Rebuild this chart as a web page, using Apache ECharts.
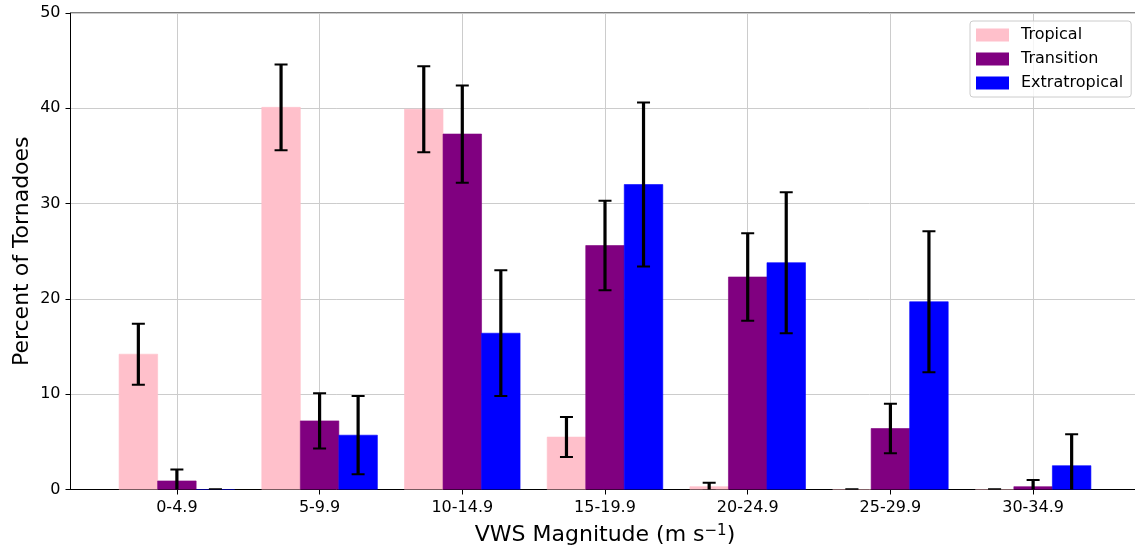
<!DOCTYPE html>
<html>
<head>
<meta charset="utf-8">
<title>Tornadoes by VWS magnitude</title>
<script src="https://cdn.jsdelivr.net/npm/echarts@6/dist/echarts.min.js"></script>
<style>
  html, body { margin: 0; padding: 0; background: #fff; }
  #chart { width: 1135px; height: 550px; }
</style>
</head>
<body>
<div id="chart"></div>
<script>
// VWS magnitude bins (m s^-1)
const categories = ['0-4.9', '5-9.9', '10-14.9', '15-19.9', '20-24.9', '25-29.9', '30-34.9'];

// Percent of tornadoes in each bin, with error half-widths
const tropical = [14.2, 40.1, 39.9, 5.5, 0.3, 0, 0];
const tropicalErr = [3.2, 4.5, 4.5, 2.1, 0.4, 0, 0];
const transition = [0.9, 7.2, 37.3, 25.6, 22.3, 6.4, 0.3];
const transitionErr = [1.2, 2.9, 5.1, 4.7, 4.6, 2.6, 0.7];
const extratropical = [0, 5.7, 16.4, 32.0, 23.8, 19.7, 2.5];
const extratropicalErr = [0, 4.1, 6.6, 8.6, 7.4, 7.4, 3.3];

const yTicks = [0, 10, 20, 30, 40, 50];

const BAR_W = 0.27;          // bar width in x-axis units
const CAP_HALF = 6.5;        // error-bar cap half-width in px
const FONT = "'DejaVu Sans', sans-serif";

function makeData(values, errs) {
  return values.map((v, i) => [i, v, errs[i]]);
}

function makeRenderer(offset, color) {
  return function (params, api) {
    const x = api.value(0) + offset;
    const v = api.value(1);
    const e = api.value(2);
    const bl = api.coord([x - BAR_W / 2, 0]);
    const tr = api.coord([x + BAR_W / 2, v]);
    const top = api.coord([x, v + e]);
    const bot = api.coord([x, v - e]);
    const errStyle = { stroke: '#000', lineWidth: 3.2 };
    const capStyle = { stroke: '#000', lineWidth: 2 };
    return {
      type: 'group',
      children: [
        {
          type: 'rect',
          shape: { x: bl[0], y: tr[1], width: tr[0] - bl[0], height: bl[1] - tr[1] },
          style: { fill: color, stroke: color, lineWidth: 0.6 }
        },
        {
          type: 'line', z2: 10,
          shape: { x1: top[0], y1: top[1], x2: bot[0], y2: bot[1] },
          style: errStyle
        },
        {
          type: 'line', z2: 10,
          shape: { x1: top[0] - CAP_HALF, y1: top[1], x2: top[0] + CAP_HALF, y2: top[1] },
          style: capStyle
        },
        {
          type: 'line', z2: 10,
          shape: { x1: bot[0] - CAP_HALF, y1: bot[1], x2: bot[0] + CAP_HALF, y2: bot[1] },
          style: capStyle
        }
      ]
    };
  };
}

const groups = [
  { name: 'Tropical', color: '#FFC0CB', values: tropical, errs: tropicalErr, offset: -BAR_W },
  { name: 'Transition', color: '#800080', values: transition, errs: transitionErr, offset: 0 },
  { name: 'Extratropical', color: '#0000FF', values: extratropical, errs: extratropicalErr, offset: BAR_W }
];

const catIdx = categories.map((c, i) => i);

const chart = echarts.init(document.getElementById('chart'), null, { renderer: 'canvas' });
chart.setOption({
  animation: false,
  backgroundColor: '#fff',
  textStyle: { fontFamily: FONT },
  grid: {
    left: 70.5, top: 13, width: 1069, height: 476.5,
    outerBoundsMode: 'none',
    containLabel: false,
    show: true, borderColor: '#000', borderWidth: 1, backgroundColor: 'transparent'
  },
  legend: {
    orient: 'vertical',
    left: 970, top: 21,
    padding: [6, 8, 6, 6],
    itemWidth: 33, itemHeight: 13, itemGap: 8,
    icon: 'rect',
    backgroundColor: 'rgba(255,255,255,0.8)',
    borderColor: '#cccccc', borderWidth: 1, borderRadius: 3,
    textStyle: { fontFamily: FONT, fontSize: 16, color: '#000', lineHeight: 16, padding: [0, 0, 0, 7] },
    data: groups.map(g => g.name)
  },
  xAxis: {
    type: 'value',
    min: -0.7455, max: 6.7455,
    name: 'VWS Magnitude (m s{sup|\u22121})',
    nameLocation: 'middle',
    nameGap: 34,
    nameTextStyle: {
      fontFamily: FONT, fontSize: 22, color: '#000',
      rich: { sup: { fontFamily: FONT, fontSize: 15, color: '#000', verticalAlign: 'top', padding: [0, 0, 9, 0] } }
    },
    axisLine: { show: true, onZero: false, lineStyle: { color: '#000', width: 1 } },
    axisTick: { show: true, length: 5, customValues: catIdx, lineStyle: { color: '#000', width: 1 } },
    axisLabel: {
      customValues: catIdx,
      formatter: v => categories[Math.round(v)],
      fontFamily: FONT, fontSize: 16, color: '#000', margin: 10
    },
    splitLine: { show: true, lineStyle: { color: '#cccccc', width: 1 } }
  },
  yAxis: {
    type: 'value',
    min: 0, max: 50, interval: 10,
    name: 'Percent of Tornadoes',
    nameLocation: 'middle',
    nameGap: 37,
    nameMoveOverlap: false,
    nameTextStyle: { fontFamily: FONT, fontSize: 22, color: '#000' },
    axisLine: { show: true, onZero: false, lineStyle: { color: '#000', width: 1 } },
    axisTick: { show: true, length: 5, lineStyle: { color: '#000', width: 1 } },
    axisLabel: {
      fontFamily: FONT, fontSize: 16, color: '#000', margin: 10,
      formatter: v => (yTicks.includes(v) ? String(v) : '')
    },
    splitLine: { show: true, lineStyle: { color: '#cccccc', width: 1 } }
  },
  series: groups.map(g => ({
    name: g.name,
    type: 'custom',
    clip: true,
    itemStyle: { color: g.color },
    renderItem: makeRenderer(g.offset, g.color),
    encode: { x: 0, y: 1 },
    data: makeData(g.values, g.errs)
  }))
});
</script>
</body>
</html>
